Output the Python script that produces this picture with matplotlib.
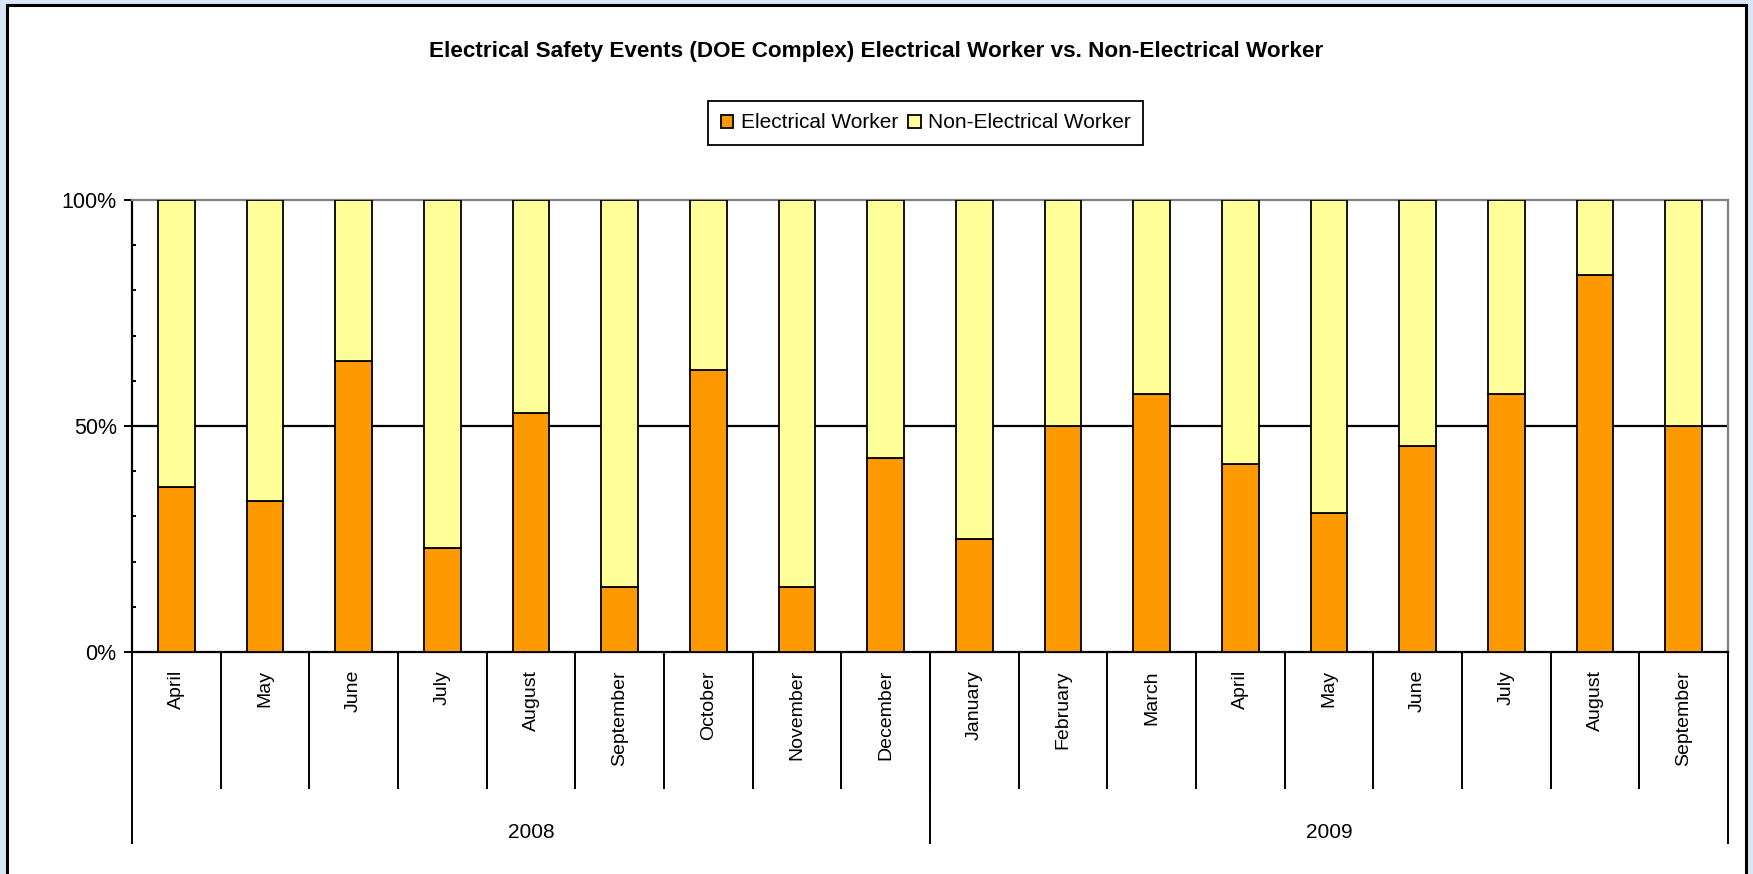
import matplotlib.pyplot as plt
import numpy as np
from matplotlib.patches import Rectangle

plt.rcParams['font.family'] = ['Liberation Sans', 'DejaVu Sans']

# data (share of events, %)
months = ['April', 'May', 'June', 'July', 'August', 'September', 'October',
          'November', 'December', 'January', 'February', 'March', 'April',
          'May', 'June', 'July', 'August', 'September']
years = ['2008', '2009']
months_per_year = [9, 9]
electrical = [36.4, 33.3, 64.3, 23.1, 52.9, 14.3, 62.5, 14.3, 42.9,
              25.0, 50.0, 57.1, 41.7, 30.8, 45.5, 57.1, 83.3, 50.0]
non_electrical = [100 - v for v in electrical]

orange = '#FF9900'
yellow = '#FFFF99'

fig = plt.figure(figsize=(17.53, 8.74), dpi=100)
fig.patch.set_facecolor('#D9E6F4')
# white panel with black frame
fig.patches.append(Rectangle((7 / 1753, -0.01), 1739 / 1753, 1 - 5 / 874 + 0.01,
                             transform=fig.transFigure, facecolor='white',
                             edgecolor='black', linewidth=2.2, zorder=-10))

ax = fig.add_axes([132 / 1753, 1 - 652 / 874, 1596 / 1753, 452 / 874])
ax.set_facecolor('none')

x = np.arange(len(months))
ax.bar(x, electrical, width=0.41, color=orange, edgecolor='black',
       linewidth=1.3, label='Electrical Worker', zorder=3)
ax.bar(x, non_electrical, width=0.41, bottom=electrical, color=yellow,
       edgecolor='black', linewidth=1.3, label='Non-Electrical Worker', zorder=3)

ax.set_xlim(-0.5, len(months) - 0.5)
ax.set_ylim(0, 100)
ax.axhline(50, color='black', linewidth=1.6, zorder=1)

for s in ['top', 'right']:
    ax.spines[s].set_color('#808080')
    ax.spines[s].set_linewidth(1.6)
for s in ['left', 'bottom']:
    ax.spines[s].set_color('black')
    ax.spines[s].set_linewidth(1.6)

ax.set_yticks([0, 50, 100])
ax.set_yticklabels(['0%', '50%', '100%'], fontsize=15.5)
ax.set_yticks(np.arange(10, 100, 10), minor=True)
ax.tick_params(axis='y', which='major', direction='out', length=6, width=1.4, pad=5)
ax.tick_params(axis='y', which='minor', direction='in', length=3, width=1.4)

# month labels centred in each category, separators at the boundaries
ax.set_xticks(x)
ax.set_xticklabels(months)
ax.tick_params(axis='x', which='major', length=0, pad=13,
               labelrotation=90, labelsize=14)

xt = ax.get_xaxis_transform()
ax.vlines(x[:-1] + 0.5, 0, -137 / 452, transform=xt, colors='black',
          linewidth=1.4, clip_on=False)
bounds = np.concatenate([[0], np.cumsum(months_per_year)]) - 0.5
ax.vlines(bounds, 0, -192 / 452, transform=xt, colors='black',
          linewidth=1.4, clip_on=False)
for i, yr in enumerate(years):
    ax.text((bounds[i] + bounds[i + 1]) / 2, -180 / 452, yr, transform=xt,
            ha='center', va='center', fontsize=15)

fig.text(0.5, 1 - 51 / 874,
         'Electrical Safety Events (DOE Complex) Electrical Worker vs. Non-Electrical Worker',
         ha='center', va='center', fontsize=16.2, fontweight='bold')

leg = fig.legend(loc='center', bbox_to_anchor=(926 / 1753, 1 - 123 / 874), ncol=2,
                 fontsize=15, fancybox=False, edgecolor='black', framealpha=1,
                 handlelength=0.6, handleheight=0.6, handletextpad=0.35,
                 columnspacing=0.5, borderpad=0.6)
leg.get_frame().set_linewidth(1.3)

fig.savefig('out.png', dpi=100, facecolor=fig.get_facecolor())
